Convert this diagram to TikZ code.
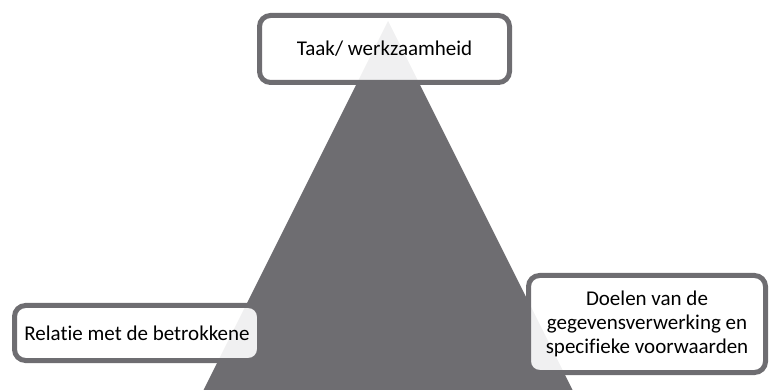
\documentclass[tikz,border=0pt]{standalone}
\usepackage{fontspec}
\setmainfont{Carlito}[Ligatures=NoCommon]
\usetikzlibrary{positioning}
\definecolor{pyramidgray}{HTML}{6E6D71}
\tikzset{
x=1pt, y=-1pt, % one unit is one pixel of the reference, y runs downwards
every box/.style={draw=pyramidgray, line width=5pt, rounded corners=11pt, fill=white, fill opacity=0.9, text opacity=1, align=center, font=\fontsize{21}{24}\selectfont, inner sep=4pt}, % sets the look of each label box
}

\begin{document}
\begin{tikzpicture}
        \useasboundingbox (0,0) rectangle (769,390);
        \clip (0,0) rectangle (769,390);
        \coordinate (apex) at (388,21);
        \coordinate (baseL) at (183,431);
        \coordinate (baseR) at (593,431);
        \fill[pyramidgray] (apex) -- (baseL) -- (baseR) -- cycle;

        \node[every box, minimum width=250pt, minimum height=67pt] (task) at (384.5,49) {Taak/ werkzaamheid};
        \node[every box, minimum width=245pt, minimum height=55pt] (relation) at (137,333) {Relatie met de betrokkene};
        \node[every box, minimum width=237pt, minimum height=97pt] (goals) at (647,324) {Doelen van de\\gegevensverwerking en\\specifieke voorwaarden};
    \end{tikzpicture}
\end{document}
